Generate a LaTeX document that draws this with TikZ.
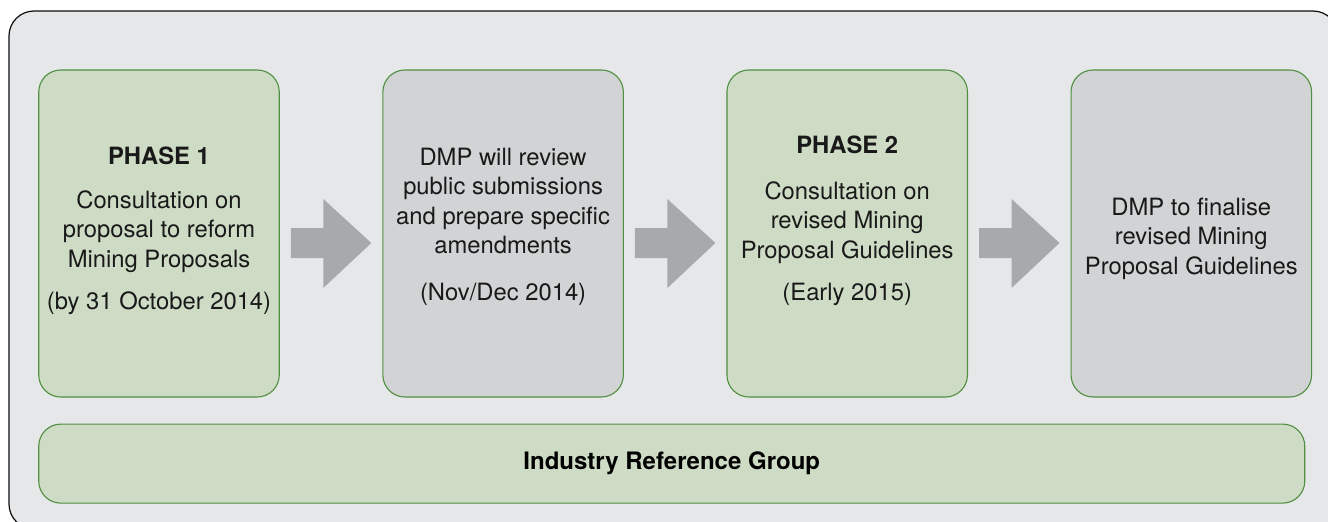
\documentclass[tikz,border=0pt]{standalone}
\usepackage{fontspec}
\setmainfont{TeX Gyre Heros}
\usepackage{tikz}
\usetikzlibrary{positioning}
\usetikzlibrary{calc}
\definecolor{panelgrey}{HTML}{E6E7E8}
\definecolor{phasegreen}{HTML}{CEDCC6}
\definecolor{stageline}{HTML}{4F8F3F}
\definecolor{dmpgrey}{HTML}{D1D3D4}
\definecolor{arrowgrey}{HTML}{A7A9AC}
\tikzset{stage/.style = {draw=stageline, line width=1.1pt, rounded corners=22pt,
                         minimum width=240.5pt, minimum height=327pt, inner sep=0pt},
         phasebox/.style = {stage, fill=phasegreen},
         dmpbox/.style = {stage, fill=dmpgrey},
         boxtext/.style = {align=center, inner sep=0pt, text=black!90,
                           font=\fontsize{23.8}{29.5}\selectfont},
         flowarrow/.style = {fill=arrowgrey}}

\begin{document}
\begin{tikzpicture}[x=1pt, y=-1pt, node distance=102.5pt]
    \useasboundingbox (0, 0) rectangle (1328, 522);
    \clip (0, 0) rectangle (1328, 522);
    \draw [fill=panelgrey, draw=black!95, line width=1.2pt, rounded corners=25pt] (9, 11) rectangle (1338, 529);

    \node [phasebox] (p1) at (159, 233.5) {};
    \node [dmpbox, right=of p1] (p2) {};
    \node [phasebox, right=of p2] (p3) {};
    \node [dmpbox, right=of p3] (p4) {};
    \node [phasebox, rounded corners=22pt, minimum width=1266pt, minimum height=79pt,
           anchor=north west, font=\fontsize{24}{29.5}\selectfont\bfseries]
        (irg) at ([yshift=-26pt]p1.south west) {Industry Reference Group};

    \node [boxtext, below=77.5pt of p1.north] (t1)
        {\textbf{PHASE 1}\\[14pt] Consultation on\\ proposal to reform\\ Mining Proposals\\[13pt] (by 31 October 2014)};
    \node [boxtext, below=78pt of p2.north] (t2)
        {DMP will review\\ public submissions\\ and prepare specific\\ amendments\\[17pt] (Nov/Dec 2014)};
    \node [boxtext, below=66.5pt of p3.north] (t3)
        {\textbf{PHASE 2}\\[16pt] Consultation on\\ revised Mining\\ Proposal Guidelines\\[13pt] (Early 2015)};
    \node [boxtext, below=128pt of p4.north] (t4)
        {DMP to finalise\\ revised Mining\\ Proposal Guidelines};

    % block arrows between the stages
    \foreach \a/\b in {p1/p2, p2/p3, p3/p4} {
        \fill [flowarrow] ($(\a.east) + (11, -5.5)$) -- ($(\b.west) + (-59, -5.5)$)
            -- ($(\b.west) + (-59, -34.5)$) -- ($(\b.west) + (-11, 9.5)$)
            -- ($(\b.west) + (-59, 54.5)$) -- ($(\b.west) + (-59, 24.5)$)
            -- ($(\a.east) + (11, 24.5)$) -- cycle;
    }
\end{tikzpicture}
\end{document}
